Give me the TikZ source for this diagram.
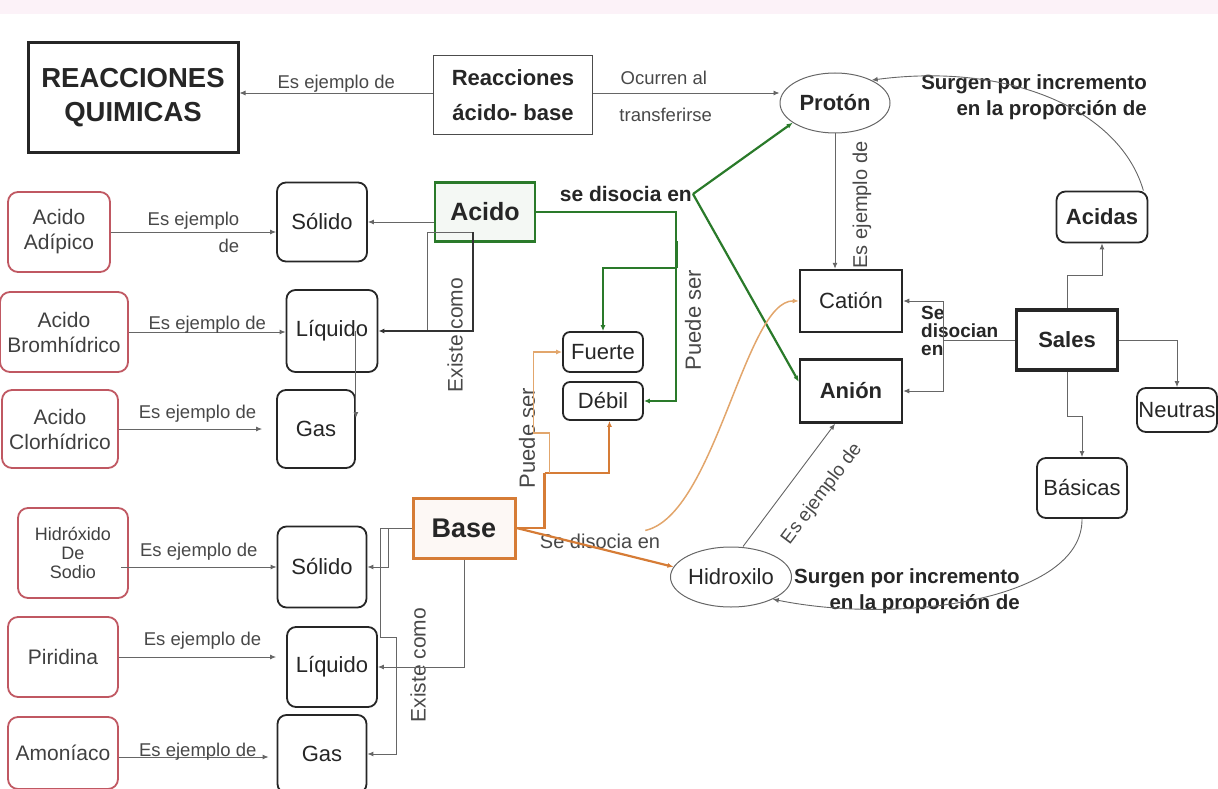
\documentclass[tikz,border=0pt]{standalone}
\usepackage{fontspec}
\setmainfont{Liberation Sans}
\usetikzlibrary{arrows.meta,shapes.geometric}

\definecolor{rosa}{RGB}{192,88,98}
\definecolor{verdeg}{RGB}{42,122,42}
\definecolor{naranja}{RGB}{214,124,54}
\definecolor{naranjac}{RGB}{226,166,108}
\definecolor{gristxt}{RGB}{72,72,72}
\definecolor{franja}{RGB}{252,242,248}

\begin{document}
\begin{tikzpicture}[x=1pt,y=1pt,yscale=-1,
  caja/.style={draw=black!85,line width=1.8pt,rounded corners=9pt,inner sep=0pt,align=center,text=black!85,font=\fontsize{22}{24}\selectfont},
  ejemplo/.style={draw=rosa,line width=1.8pt,rounded corners=10pt,inner sep=0pt,align=center,text=black!75,font=\fontsize{21}{25}\selectfont},
  concepto/.style={draw=black!85,line width=2.5pt,inner sep=0pt,align=center,text=black!85,font=\bfseries\fontsize{22}{24}\selectfont},
  elipse/.style={ellipse,draw=black!60,line width=1pt,inner sep=0pt,text=black!85},
  enlace/.style={text=gristxt,inner sep=1pt,align=center,font=\fontsize{18.5}{27}\selectfont},
  enlaceb/.style={text=black!85,inner sep=1pt,font=\bfseries\fontsize{20.5}{26}\selectfont},
  punta/.style={-{Latex[length=6pt,width=5pt]}},
  linea/.style={draw=black!60,line width=0.9pt},
  flecha/.style={linea,punta},
  verde/.style={draw=verdeg,line width=2.2pt,punta},
  naranjal/.style={draw=naranja,line width=2.4pt},
]
\useasboundingbox (0,0) rectangle (1218,789);
\fill[franja] (0,0) rectangle (1218,14);

%Main concepts
\node[concepto,line width=3pt,minimum width=210pt,minimum height=110pt,font=\bfseries\fontsize{27.5}{34}\selectfont] (rq) at (133,98) {REACCIONES\\QUIMICAS};
\node[concepto,draw=black!70,line width=1pt,minimum width=159pt,minimum height=79pt,font=\bfseries\fontsize{22}{35}\selectfont] (rab) at (513,95) {Reacciones\\ácido- base};
\node[elipse,minimum width=110pt,minimum height=60pt,font=\bfseries\fontsize{22}{24}\selectfont] (proton) at (835,103) {Protón};
\node[caja,minimum width=91pt,minimum height=51pt,font=\bfseries\fontsize{22}{24}\selectfont] (acidas) at (1102,217) {Acidas};
\node[concepto,font=\fontsize{22}{24}\selectfont,minimum width=102pt,minimum height=62pt] (cation) at (851,301) {Catión};
\node[concepto,minimum width=102pt,minimum height=63pt] (anion) at (851,391) {Anión};
\node[concepto,line width=3.5pt,minimum width=101pt,minimum height=60pt] (sales) at (1067,340) {Sales};
\node[caja,minimum width=80pt,minimum height=44pt] (neutras) at (1177,410) {Neutras};
\node[caja,minimum width=90pt,minimum height=60pt] (basicas) at (1082,488) {Básicas};
\node[elipse,minimum width=118pt,minimum height=60pt,font=\fontsize{22}{24}\selectfont] (hidroxilo) at (731,577) {Hidroxilo};

%Acido side
\node[concepto,draw=verdeg,fill=verdeg!5,minimum width=100pt,minimum height=59pt,font=\bfseries\fontsize{25}{27}\selectfont] (acido) at (485,212) {Acido};
\node[caja,rounded corners=7pt,minimum width=80pt,minimum height=40pt] (fuerte) at (603,352) {Fuerte};
\node[caja,rounded corners=7pt,minimum width=80pt,minimum height=38pt] (debil) at (603,401) {Débil};
\node[caja,minimum width=90pt,minimum height=79pt] (solA) at (322,222) {Sólido};
\node[caja,minimum width=91pt,minimum height=82pt] (liqA) at (332,331) {Líquido};
\node[caja,minimum width=78pt,minimum height=78pt] (gasA) at (316,429) {Gas};
\node[ejemplo,minimum width=102pt,minimum height=80pt] (adipico) at (59,232) {Acido\\Adípico};
\node[ejemplo,minimum width=128pt,minimum height=80pt] (bromh) at (64,332) {Acido\\Bromhídrico};
\node[ejemplo,minimum width=116pt,minimum height=78pt] (clorh) at (60,429) {Acido\\Clorhídrico};

%Base side
\node[concepto,draw=naranja,line width=3pt,fill=naranja!5,minimum width=102pt,minimum height=60pt,font=\bfseries\fontsize{27}{29}\selectfont] (base) at (464,528) {Base};
\node[caja,minimum width=89pt,minimum height=81pt] (solB) at (322,567) {Sólido};
\node[caja,minimum width=90pt,minimum height=80pt] (liqB) at (332,667) {Líquido};
\node[caja,minimum width=89pt,minimum height=78pt] (gasB) at (322,754) {Gas};
\node[ejemplo,minimum width=110pt,minimum height=90pt,font=\fontsize{18}{19}\selectfont] (sodio) at (73,553) {Hidróxido\\De\\Sodio};
\node[ejemplo,minimum width=110pt,minimum height=80pt] (piridina) at (63,657) {Piridina};
\node[ejemplo,minimum width=110pt,minimum height=72pt] (amoniaco) at (63,753) {Amoníaco};

%Linking phrases
\node[enlaceb,anchor=east,font=\bfseries\fontsize{21}{23}\selectfont] (sediso) at (693,194) {se disocia en};
\node[enlaceb,anchor=east,align=right] (spa) at (1148,97) {Surgen por incremento\\en la proporción de};
\node[enlaceb,anchor=west,align=right] (spb) at (793,591) {Surgen por incremento\\en la proporción de};
\node[enlaceb,anchor=west,align=left,font=\bfseries\fontsize{19}{18}\selectfont] (sdc) at (920,331) {Se\\disocian\\en};
\node[enlace,font=\fontsize{20}{22}\selectfont] (sdb) at (600,541) {Se disocia en};
\node[enlace,rotate=90,font=\fontsize{20}{22}\selectfont] (lpc) at (862,205) {Es ejemplo de};
\node[enlace,rotate=53,font=\fontsize{19}{21}\selectfont] (lph) at (822,494) {Es ejemplo de};
\node[enlace,rotate=90,font=\fontsize{22}{24}\selectfont] (lpg) at (693,320) {Puede ser};
\node[enlace,rotate=90,font=\fontsize{22}{24}\selectfont] (lpo) at (527,438) {Puede ser};
\node[enlace,rotate=90,font=\fontsize{21}{23}\selectfont] (exA) at (455,335) {Existe como};
\node[enlace,rotate=90,font=\fontsize{21}{23}\selectfont] (exB) at (418,665) {Existe como};

%Top row
\draw[flecha] (rab.west |- 0,93) -- node[enlace,above=-1pt] {Es ejemplo de} (rq.east |- 0,93);
\draw[flecha] (rab.east |- 0,93) -- node[enlace,above=7pt,pos=0.38] {Ocurren al} node[enlace,below=14pt,pos=0.39] {transferirse} (proton.west |- 0,93);
\draw[flecha] (acidas.north east) ++(-5,0) .. controls (1120,110) and (1010,62) .. (proton.32);
\draw[flecha] (proton.south) -- (proton.south |- cation.north);

%Sales
\coordinate (sd) at (943,340);
\draw[linea] (sales.west) -- (sd);
\draw[flecha] (sd) |- (cation.east);
\draw[flecha] (sd) |- (anion.east);
\draw[flecha] (sales.north) -- ++(0,-33) -| (acidas.south);
\draw[flecha] (sales.east) -| (neutras.north);
\draw[flecha] (sales.south) -- ++(0,45) -| (basicas.north);
\draw[flecha] (basicas.south) .. controls (1083,600) and (900,625) .. (hidroxilo.-28);
\draw[flecha] (hidroxilo.north) ++(12,0) -- ([xshift=-16pt]anion.south);

%Acido
\draw[verde] (sediso.east) -- (proton.205);
\draw[verde] (sediso.east) -- (anion.170);
\draw[verde] (acido.east) -- ++(140,0) coordinate (gk) -- (gk |- debil.east) -- (debil.east);
\draw[draw=verdeg,line width=3.5pt] (gk) ++(0,29) -- ++(0,27);
\draw[verde] (gk) ++(0,56) -| (fuerte.north);
\draw[flecha] (acido.west |- 0,222) -- (solA.east |- 0,222);
\coordinate (ea) at (473,232);
\coordinate (eb) at (427,232);
\draw[linea] (eb) -- (ea);
\draw[linea] (eb) -- (eb |- liqA.east);
\draw[flecha,line width=1.6pt,draw=black!80] (ea) |- (liqA.east);
\draw[flecha] (liqA.east -| gasA.east) -- (gasA.east |- 0,418);
\draw[flecha] (adipico.east) -- node[enlace] {\hspace*{0pt}Es ejemplo\\\hfill de} (adipico.east -| solA.west);
\draw[flecha] (bromh.east) -- node[enlace,above=-3pt] {Es ejemplo de} (bromh.east -| liqA.west);
\draw[flecha,shorten >=14pt] (clorh.east) -- node[enlace,above=5pt] {Es ejemplo de} (clorh.east -| gasA.west);

%Base
\draw[flecha] (base.west) -- ++(-31,0) -- ++(0,109) -- ++(16,0) |- (gasB.east);
\draw[flecha] (base.west) ++(-23,0) |- (solB.east);
\draw[flecha] (base.south) |- (liqB.east);
\draw[flecha] (sodio.east) ++(-8,14) -- node[enlace,above=5pt] {Es ejemplo de} (solB.west);
\draw[flecha,shorten >=10pt] (piridina.east) -- node[enlace,above=6pt] {Es ejemplo de} (piridina.east -| liqB.west);
\draw[flecha,shorten >=8pt] (amoniaco.east |- 0,757) -- node[enlace,above=-5pt] {Es ejemplo de} (gasB.west |- 0,757);
\draw[naranjal] (base.east) -- ++(28,0) -- ++(0,-55) coordinate (oc);
\draw[draw=naranja,line width=2pt,punta] (oc) -| (debil.288);
\draw[draw=naranjac,line width=1.5pt,punta] (oc) ++(5,0) -- ++(0,-40) -- ++(-16,0) |- (fuerte.west);
\draw[draw=naranja,line width=2.2pt,punta] (base.east) -- (hidroxilo.170);
\draw[draw=naranjac,line width=1.5pt,punta] (sdb.north east) ++(-16,-2) .. controls (715,515) and (745,300) .. (cation.west);

\end{tikzpicture}
\end{document}
